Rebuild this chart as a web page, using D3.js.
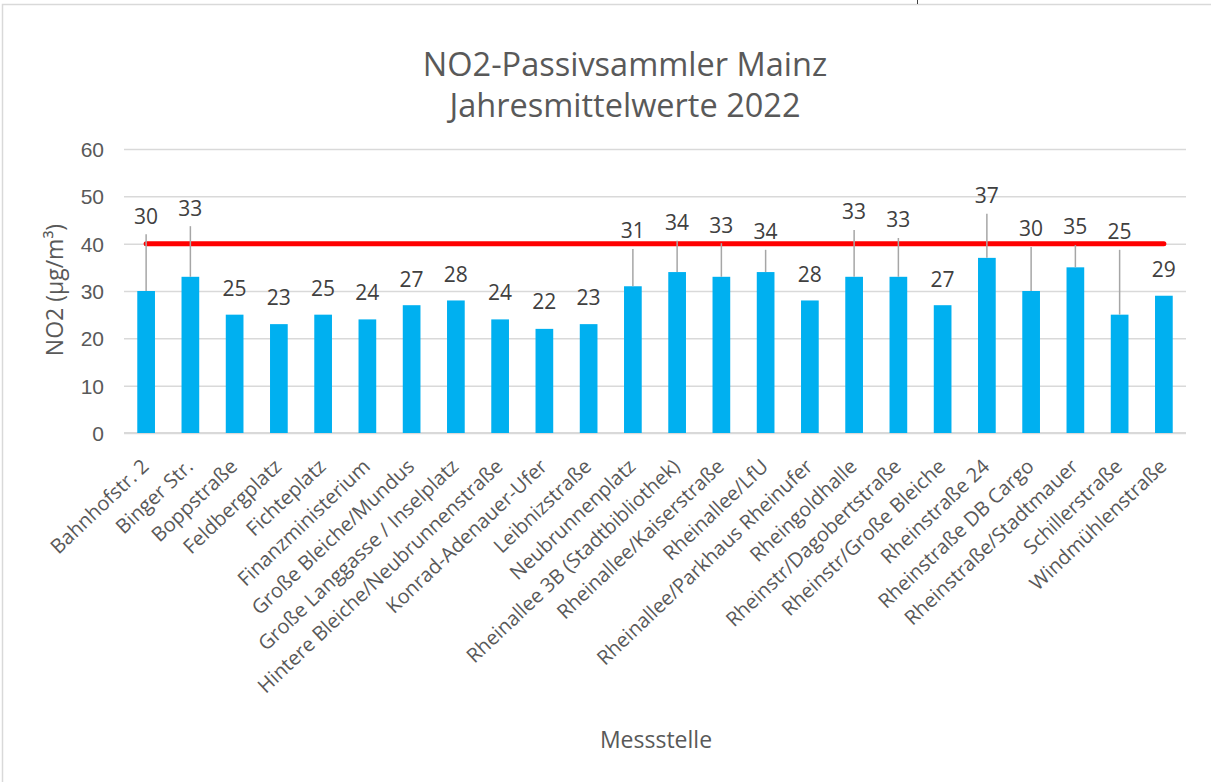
<!DOCTYPE html>
<html>
<head>
<meta charset="utf-8">
<script src="https://cdn.jsdelivr.net/npm/d3@7"></script>
<style>
    body { margin: 0; background: #fff; }
    svg { display: block; font-family: "Open Sans", sans-serif; }
</style>
</head>
<body>
<svg id="chart"></svg>
<script>
// Messstellen und Jahresmittelwerte 2022
var stations = ["Bahnhofstr. 2", "Binger Str.", "Boppstraße", "Feldbergplatz", "Fichteplatz",
    "Finanzministerium", "Große Bleiche/Mundus", "Große Langgasse / Inselplatz",
    "Hintere Bleiche/Neubrunnenstraße", "Konrad-Adenauer-Ufer", "Leibnizstraße",
    "Neubrunnenplatz", "Rheinallee 3B (Stadtbibliothek)", "Rheinallee/Kaiserstraße",
    "Rheinallee/LfU", "Rheinallee/Parkhaus Rheinufer", "Rheingoldhalle",
    "Rheinstr/Dagobertstraße", "Rheinstr/Große Bleiche", "Rheinstraße 24",
    "Rheinstraße DB Cargo", "Rheinstraße/Stadtmauer", "Schillerstraße", "Windmühlenstraße"];
var no2Values = [30, 33, 25, 23, 25, 24, 27, 28, 24, 22, 23, 31, 34, 33, 34, 28, 33, 33, 27, 37, 30, 35, 25, 29];
// where each data label sits (in µg/m³ on the value axis)
var labelLevels = [45.8, 47.5, 30.4, 28.5, 30.4, 29.6, 32.3, 33.4, 29.6, 27.7, 28.5,
    42.7, 44.4, 43.9, 42.5, 33.4, 46.7, 45.0, 32.3, 50.1, 43.1, 43.5, 42.5, 34.6];
var yTicks = [0, 10, 20, 30, 40, 50, 60];
var limitValue = 40;

var width = 1211, height = 782;
var plotLeft = 124, plotRight = 1186, plotTop = 149, plotBottom = 433;

var svg = d3.select("#chart").attr("width", width).attr("height", height);

svg.append("rect")
    .attr("x", 2.5).attr("y", 4.5)
    .attr("width", 1400).attr("height", 1000)
    .attr("fill", "none").attr("stroke", "#d9d9d9").attr("stroke-width", 1.5);
svg.append("line")
    .attr("x1", 917.5).attr("x2", 917.5).attr("y1", 0).attr("y2", 4)
    .attr("stroke", "#404040");

var x = d3.scaleBand().domain(stations).range([plotLeft, plotRight]).paddingInner(0.6).paddingOuter(0.3);
var y = d3.scaleLinear().domain([0, 60]).range([plotBottom, plotTop]);

// gridlines + tick labels
var yAxis = svg.append("g")
    .attr("transform", "translate(" + plotLeft + ",0)")
    .call(d3.axisLeft(y).tickValues(yTicks).tickSize(-(plotRight - plotLeft)).tickPadding(20));
yAxis.select(".domain").remove();
yAxis.selectAll("line").attr("stroke", "#d9d9d9").attr("stroke-width", 1.5);
yAxis.selectAll("text").attr("fill", "#595959").style("font-size", "21px").attr("dy", "0.35em");

svg.append("line")
    .attr("x1", plotLeft).attr("x2", plotRight)
    .attr("y1", y(0)).attr("y2", y(0))
    .attr("stroke", "#d9d9d9").attr("stroke-width", 2);

svg.selectAll(".bar")
    .data(no2Values)
    .enter().append("rect")
    .attr("class", "bar")
    .attr("x", (d, i) => x(stations[i]))
    .attr("y", d => y(d))
    .attr("width", x.bandwidth())
    .attr("height", d => y(0) - y(d))
    .attr("fill", "#00b0f0");

// Grenzwert
svg.append("line")
    .attr("x1", x(stations[0]) + x.bandwidth() / 2)
    .attr("x2", x(stations[stations.length - 1]) + x.bandwidth() / 2)
    .attr("y1", y(limitValue)).attr("y2", y(limitValue))
    .attr("stroke", "#ff0000").attr("stroke-width", 5).attr("stroke-linecap", "round");

// leader lines for labels moved away from their bar
svg.selectAll(".leader")
    .data(no2Values.map((v, i) => ({v: v, i: i})).filter(d => labelLevels[d.i] - d.v > 8))
    .enter().append("line")
    .attr("class", "leader")
    .attr("x1", d => x(stations[d.i]) + x.bandwidth() / 2)
    .attr("x2", d => x(stations[d.i]) + x.bandwidth() / 2)
    .attr("y1", d => y(labelLevels[d.i]) + 18)
    .attr("y2", d => y(d.v))
    .attr("stroke", "#a6a6a6").attr("stroke-width", 1.5);

svg.selectAll(".val")
    .data(no2Values)
    .enter().append("text")
    .attr("class", "val")
    .attr("x", (d, i) => x(stations[i]) + x.bandwidth() / 2)
    .attr("y", (d, i) => y(labelLevels[i]))
    .attr("dy", "0.35em")
    .attr("text-anchor", "middle")
    .attr("fill", "#404040")
    .style("font-size", "21px")
    .text(d => d);

// category labels
svg.selectAll(".cat")
    .data(stations)
    .enter().append("text")
    .attr("class", "cat")
    .attr("transform", d => "translate(" + (x(d) + x.bandwidth() / 2 + 4) + ",468) rotate(-43.5)")
    .attr("text-anchor", "end")
    .attr("fill", "#595959")
    .style("font-size", "20px")
    .text(d => d);

svg.append("text")
    .attr("transform", "translate(63,290) rotate(-90)")
    .attr("text-anchor", "middle")
    .attr("fill", "#595959")
    .style("font-size", "23px")
    .text("NO2 (µg/m³)");

svg.append("text")
    .attr("x", 656).attr("y", 748)
    .attr("text-anchor", "middle")
    .attr("fill", "#595959")
    .style("font-size", "23px")
    .text("Messstelle");

var title = svg.append("text")
    .attr("text-anchor", "middle")
    .attr("fill", "#595959")
    .style("font-size", "32.5px");
title.append("tspan").attr("x", 625).attr("y", 76).text("NO2-Passivsammler Mainz");
title.append("tspan").attr("x", 625).attr("y", 117).text("Jahresmittelwerte 2022");
</script>
</body>
</html>
